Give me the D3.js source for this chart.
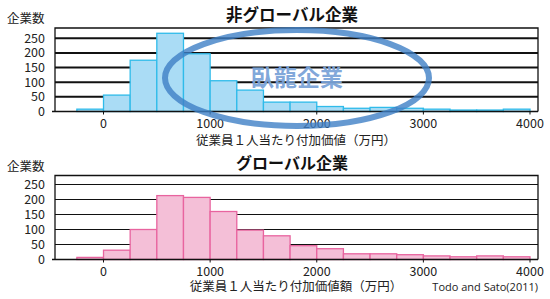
<!DOCTYPE html>
<html>
<head>
<meta charset="utf-8">
<script src="https://cdn.jsdelivr.net/npm/d3@7"></script>
<style>
  body { margin: 0; background: #fff; }
  svg { display: block; font-family: "Noto Sans CJK JP", "Noto Sans", sans-serif; }
</style>
</head>
<body>
<svg id="chart" width="550" height="299"></svg>
<script>
// bin edges (万円), 250 wide
var binStarts = [-250, 0, 250, 500, 750, 1000, 1250, 1500, 1750, 2000, 2250, 2500, 2750, 3000, 3250, 3500, 3750];
var binWidth = 250;
var nonGlobal = [8, 56, 175, 267, 197, 105, 73, 32, 32, 17, 11, 14, 11, 8, 5, 5, 8];
var globalFirms = [7, 31, 100, 213, 207, 160, 98, 79, 46, 36, 19, 19, 16, 12, 9, 12, 9];
var yTicks = [0, 50, 100, 150, 200, 250];
var xTicks = [0, 1000, 2000, 3000, 4000];

var svg = d3.select('#chart');

var x = d3.scaleLinear().domain([-455, 4075]).range([55, 538]);

function panel(opts) {
    var y = d3.scaleLinear().domain([0, opts.ymax]).range([opts.bottom, opts.top]);
    var g = svg.append('g');

    // gridlines
    g.selectAll('line.grid').data(yTicks.slice(1)).enter().append('line')
        .attr('x1', 55).attr('x2', 538)
        .attr('y1', function(d) { return y(d); })
        .attr('y2', function(d) { return y(d); })
        .attr('stroke', '#111').attr('stroke-width', opts.gridW);

    // bars
    g.selectAll('rect.bar').data(opts.values).enter().append('rect')
        .attr('x', function(d, i) { return x(binStarts[i]); })
        .attr('width', function(d, i) { return x(binStarts[i] + binWidth) - x(binStarts[i]); })
        .attr('y', function(d) { return y(d); })
        .attr('height', function(d) { return y(0) - y(d); })
        .attr('fill', opts.fill).attr('stroke', opts.stroke).attr('stroke-width', 1.3);

    // frame
    g.append('path')
        .attr('d', 'M55,' + y(0) + 'V' + opts.top + 'H538V' + y(0))
        .attr('fill', 'none').attr('stroke', '#111').attr('stroke-width', 1.3);
    g.append('line')
        .attr('x1', 52).attr('x2', 538).attr('y1', y(0)).attr('y2', y(0))
        .attr('stroke', '#111').attr('stroke-width', 1.5);

    // y labels
    g.selectAll('text.yl').data(yTicks).enter().append('text')
        .attr('x', 45).attr('y', function(d) { return y(d); })
        .attr('dy', '0.36em').attr('text-anchor', 'end')
        .attr('font-size', 12.5).attr('fill', '#222')
        .text(function(d) { return d; });

    // x ticks + labels
    g.selectAll('line.xt').data(xTicks).enter().append('line')
        .attr('x1', function(d) { return x(d); }).attr('x2', function(d) { return x(d); })
        .attr('y1', y(0)).attr('y2', y(0) + 3)
        .attr('stroke', '#111').attr('stroke-width', 1);
    g.selectAll('text.xl').data(xTicks).enter().append('text')
        .attr('x', function(d) { return x(d); }).attr('y', y(0) + 16)
        .attr('text-anchor', 'middle').attr('font-size', 12.5).attr('fill', '#222')
        .text(function(d) { return d; });

    g.append('text').attr('x', 7).attr('y', opts.top - 5)
        .attr('font-size', 12.5).attr('fill', '#222').text('企業数');
    g.append('text').attr('x', 292).attr('y', opts.titleY)
        .attr('text-anchor', 'middle').attr('font-size', opts.titleSize).attr('font-weight', 'bold')
        .attr('fill', '#111').text(opts.title);
    g.append('text').attr('x', opts.xtitleX).attr('y', opts.xtitleY)
        .attr('text-anchor', 'middle').attr('font-size', 12.5).attr('fill', '#222')
        .text(opts.xtitle);
    return g;
}

panel({
    values: nonGlobal, ymax: 285, top: 28, bottom: 111.5, gridW: 2,
    fill: '#aadcf5', stroke: '#2fbbea',
    title: '非グローバル企業', titleY: 21, titleSize: 16.5,
    xtitle: '従業員１人当たり付加価値（万円）', xtitleX: 296, xtitleY: 145
});
panel({
    values: globalFirms, ymax: 280, top: 175.5, bottom: 259.5, gridW: 1,
    fill: '#f4bfd7', stroke: '#e8649f',
    title: 'グローバル企業', titleY: 169, titleSize: 16,
    xtitle: '従業員１人当たり付加価値額（万円）', xtitleX: 296, xtitleY: 291
});

svg.append('text').attr('x', 538).attr('y', 291)
    .attr('text-anchor', 'end').attr('font-size', 11).attr('fill', '#222')
    .attr('font-family', 'Open Sans, sans-serif')
    .text('Todo and Sato(2011)');

// watermark
svg.append('ellipse').attr('cx', 297).attr('cy', 78).attr('rx', 132).attr('ry', 48)
    .attr('fill', 'none').attr('stroke', '#3f7fc6').attr('stroke-opacity', 0.8).attr('stroke-width', 6);
svg.append('text').attr('x', 297).attr('y', 78).attr('dy', '0.36em')
    .attr('text-anchor', 'middle').attr('font-size', 23).attr('font-weight', 'bold')
    .attr('fill', '#7aa3d8').attr('fill-opacity', 0.95).text('臥龍企業');
</script>
</body>
</html>
